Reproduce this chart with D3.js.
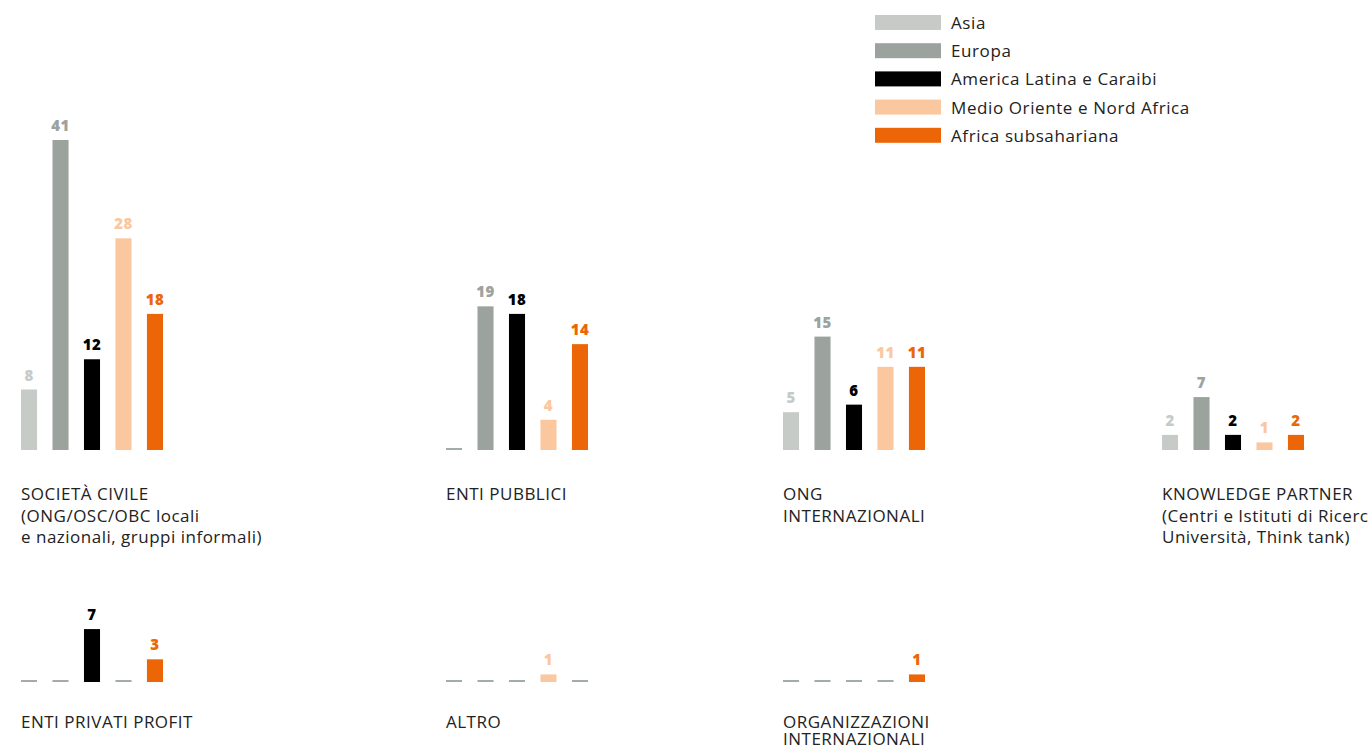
<!DOCTYPE html>
<html>
<head>
<meta charset="utf-8">
<script src="https://cdn.jsdelivr.net/npm/d3@7"></script>
<style>
  html, body { margin: 0; padding: 0; background: #fff; overflow: hidden; }
  svg { display: block; }
</style>
</head>
<body>
<svg id="chart"></svg>
<script>
// categorie (righe di testo) e valori per regione
const categories = [
    ["SOCIETÀ CIVILE", "(ONG/OSC/OBC locali", "e nazionali, gruppi informali)"],
    ["ENTI PUBBLICI"],
    ["ONG", "INTERNAZIONALI"],
    ["KNOWLEDGE PARTNER", "(Centri e Istituti di Ricerca,", "Università, Think tank)"],
    ["ENTI PRIVATI PROFIT"],
    ["ALTRO"],
    ["ORGANIZZAZIONI", "INTERNAZIONALI"]
];
const regions = ["Asia", "Europa", "America Latina e Caraibi", "Medio Oriente e Nord Africa", "Africa subsahariana"];
const asia    = [8, 0, 5, 2, 0, 0, 0];
const europa  = [41, 19, 15, 7, 0, 0, 0];
const america = [12, 18, 6, 2, 7, 0, 0];
const medio   = [28, 4, 11, 1, 0, 1, 0];
const africa  = [18, 14, 11, 2, 3, 0, 1];

const colors = ["#c6cbc8", "#9ca39f", "#000000", "#fbc79f", "#ec6608"];
const zeroColor = "#a3aca9";

const width = 1369, height = 746;
// posizione dei pannelli
const panels = [
    {x: 21,   base: 450, lh: 21.5},
    {x: 446,  base: 450, lh: 21.5},
    {x: 783,  base: 450, lh: 21.5},
    {x: 1162, base: 450, lh: 21.5},
    {x: 21,   base: 682, lh: 17},
    {x: 446,  base: 682, lh: 17},
    {x: 783,  base: 682, lh: 17}
];

const series = [asia, europa, america, medio, africa];

const svg = d3.select("#chart")
    .attr("width", width)
    .attr("height", height);

const x = d3.scaleBand()
    .domain(regions)
    .range([0, 142])
    .paddingInner(0.49)
    .paddingOuter(0);

// stessa scala per tutti i pannelli
const yh = d3.scaleLinear().domain([0, 41]).range([0, 310]);

const fontText = "'Open Sans', Lato, sans-serif";

categories.forEach((lines, i) => {
    const p = panels[i];
    const g = svg.append("g").attr("transform", `translate(${p.x},0)`);
    const vals = series.map((s, k) => ({region: regions[k], value: s[i], color: colors[k]}));

    g.selectAll("rect.bar")
        .data(vals.filter(d => d.value > 0))
        .enter()
        .append("rect")
        .attr("class", "bar")
        .attr("x", d => x(d.region))
        .attr("width", x.bandwidth())
        .attr("y", d => p.base - yh(d.value))
        .attr("height", d => yh(d.value))
        .attr("fill", d => d.color);

    g.selectAll("rect.zero")
        .data(vals.filter(d => d.value === 0))
        .enter()
        .append("rect")
        .attr("class", "zero")
        .attr("x", d => x(d.region))
        .attr("width", x.bandwidth())
        .attr("y", p.base - 2)
        .attr("height", 2)
        .attr("fill", zeroColor);

    g.selectAll("text.val")
        .data(vals.filter(d => d.value > 0))
        .enter()
        .append("text")
        .attr("class", "val")
        .attr("x", d => x(d.region) + x.bandwidth() / 2)
        .attr("y", d => p.base - yh(d.value) - 9)
        .attr("text-anchor", "middle")
        .attr("font-family", fontText)
        .attr("font-weight", 800)
        .attr("font-size", 15)
        .attr("letter-spacing", 0.5)
        .attr("fill", d => d.color)
        .text(d => d.value);

    const t = g.append("text")
        .attr("font-family", fontText)
        .attr("font-size", 17)
        .attr("letter-spacing", 0.5)
        .attr("fill", "#222");
    lines.forEach((line, j) => {
        t.append("tspan")
            .attr("x", 0)
            .attr("y", p.base + 50 - (p.base > 600 ? 4 : 0) + j * p.lh)
            .text(line);
    });
});

// legenda
const legend = svg.append("g").attr("transform", "translate(875,15)");
const item = legend.selectAll("g")
    .data(regions)
    .enter()
    .append("g")
    .attr("transform", (d, i) => `translate(0,${i * 28.2})`);

item.append("rect")
    .attr("width", 66)
    .attr("height", 15)
    .attr("fill", (d, i) => colors[i]);

item.append("text")
    .attr("x", 76)
    .attr("y", 14)
    .attr("font-family", fontText)
    .attr("font-size", 17)
    .attr("letter-spacing", 0.6)
    .attr("fill", "#222")
    .text(d => d);
</script>
</body>
</html>
